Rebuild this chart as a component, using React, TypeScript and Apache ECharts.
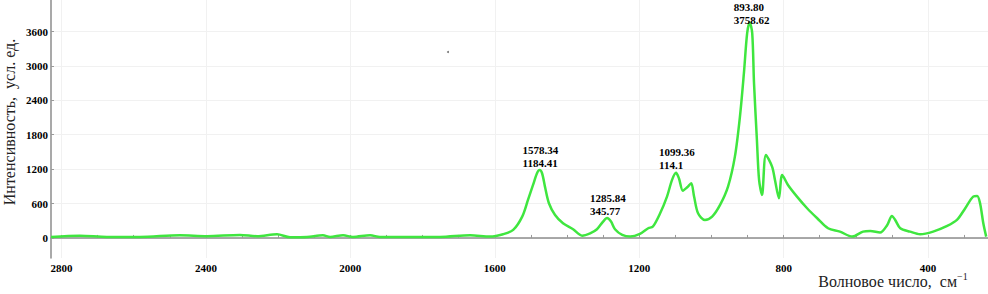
import React, { useEffect, useRef } from "react";
import * as echarts from "echarts";

// Spectrum: wavenumber (cm^-1) and intensity (arb. units)
const wavenumbers = [
  2829, 2749, 2674, 2583, 2472, 2397, 2306, 2258, 2203, 2167, 2120, 2076, 2056, 2020, 1993, 1945, 1918, 1843,
  1752, 1668, 1613, 1577, 1549, 1524, 1508, 1494, 1483, 1476, 1469, 1461, 1450, 1433, 1411, 1383, 1358, 1336,
  1317, 1300, 1289, 1278, 1267, 1247, 1225, 1198, 1175, 1162, 1142, 1123, 1109, 1098, 1090, 1079, 1067, 1056,
  1048, 1037, 1018, 998, 976, 954, 935, 921, 910, 901, 894, 887, 882, 874, 868, 860, 849, 832, 824, 813, 804,
  788, 763, 735, 707, 677, 644, 610, 580, 560, 533, 513, 500, 491, 477, 450, 422, 386, 347, 320, 297, 275, 264,
  256, 247, 239,
];
const intensities = [
  17, 40, 17, 17, 47, 30, 52, 30, 64, 12, 17, 47, 17, 47, 17, 47, 17, 17,
  17, 47, 23, 64, 140, 372, 663, 924, 1128, 1184, 1128, 895, 605, 401, 256, 152, 40, 81,
  152, 285, 346, 285, 152, 52, 23, 70, 169, 198, 430, 721, 1012, 1135, 1041, 825, 884, 954,
  721, 430, 314, 372, 576, 895, 1418, 2116, 2873, 3571, 3759, 3571, 2698, 1709, 1012, 750, 1448, 1244, 1012, 692, 1099,
  924, 721, 518, 343, 169, 110, 23, 110, 122, 93, 227, 384, 314, 169, 110, 64, 110, 209, 314, 518, 721, 733,
  605, 256, 23,
];

// Annotated peaks
const peakWavenumbers = [1476, 1289, 1098, 894];
const peakIntensities = [1184, 346, 1135, 3759];
const peakTexts = ["1578.34\n1184.41", "1285.84\n345.77", "1099.36\n114.1", "893.80\n3758.62"];

// Axis ticks
const yTickValues = [0, 600, 1200, 1800, 2400, 3000, 3600];
const xLabelValues = [2800, 2400, 2000, 1600, 1200, 800, 400];
const xMinorTickValues = [
  300, 400, 500, 600, 700, 800, 900, 1000, 1100, 1200, 1300, 1400, 1500, 1600, 1700, 1800, 1900, 2000, 2100, 2200,
  2300, 2400, 2500, 2600, 2700, 2800,
];

const X_MIN = 234;
const X_MAX = 2829;
const Y_MIN = -350;
const Y_MAX = 4150;

const SERIF = "'Liberation Serif', 'Times New Roman', serif";

export default function App() {
  const ref = useRef<HTMLDivElement>(null);

  useEffect(() => {
    if (!ref.current) return;
    const chart = echarts.init(ref.current, undefined, { renderer: "svg" });
    const data = wavenumbers.map((w, i) => [w, intensities[i]]);
    const tickLabel = {
      fontFamily: SERIF,
      fontSize: 11,
      fontWeight: "bold" as const,
      color: "#000",
    };
    chart.setOption({
      animation: false,
      backgroundColor: "#ffffff",
      grid: { left: 51, right: 0, top: 0, bottom: 36, containLabel: false, outerBoundsMode: "none" },
      xAxis: [
        {
          type: "value",
          inverse: true,
          min: X_MIN,
          max: X_MAX,
          axisLine: { show: true, lineStyle: { color: "#8c8c8c", width: 1.5 } },
          axisTick: {
            show: true,
            inside: true,
            length: 3,
            customValues: xMinorTickValues,
            lineStyle: { color: "#9a9a9a" },
          },
          axisLabel: {
            ...tickLabel,
            margin: 4,
            customValues: xLabelValues,
            formatter: (v: number) => String(v),
          },
          splitLine: { show: false },
        },
        {
          type: "value",
          inverse: true,
          min: X_MIN,
          max: X_MAX,
          position: "bottom",
          axisLine: { show: false },
          axisTick: { show: false, customValues: xLabelValues },
          axisLabel: { show: false },
          splitLine: { show: true, lineStyle: { color: "#f1f1f1", width: 1 } },
        },
      ],
      yAxis: {
        type: "value",
        min: Y_MIN,
        max: Y_MAX,
        axisLine: { show: true, lineStyle: { color: "#8c8c8c", width: 1.5 } },
        axisTick: {
          show: true,
          inside: true,
          length: 3,
          customValues: yTickValues,
          lineStyle: { color: "#9a9a9a" },
        },
        axisLabel: {
          ...tickLabel,
          margin: 3,
          customValues: yTickValues,
          formatter: (v: number) => String(v),
        },
        splitLine: { show: true, lineStyle: { color: "#f1f1f1", width: 1 } },
      },
      series: [
        {
          type: "line",
          xAxisIndex: 0,
          data,
          showSymbol: false,
          smooth: 0.3,
          lineStyle: { color: "#3fe63f", width: 2.5 },
          markPoint: {
            symbol: "circle",
            symbolSize: 0,
            silent: true,
            label: {
              show: true,
              position: [-17, -27],
              align: "left",
              verticalAlign: "top",
              fontFamily: SERIF,
              fontSize: 11,
              fontWeight: "bold",
              color: "#000",
              lineHeight: 13,
              formatter: (p: any) => p.name,
            },
            data: peakWavenumbers.map((w, i) => ({
              name: peakTexts[i],
              coord: [w, peakIntensities[i]],
              label: i === peakWavenumbers.length - 1 ? { position: [-16, -22] } : undefined,
            })),
          },
        },
      ],
      graphic: [
        {
          type: "text",
          x: 9,
          y: 122,
          rotation: Math.PI / 2,
          style: {
            text: "Интенсивность,  усл. ед.",
            fontFamily: SERIF,
            fontSize: 16,
            fill: "#222",
            align: "center",
            verticalAlign: "middle",
          },
        },
        {
          type: "text",
          x: 893,
          y: 281,
          style: {
            text: "Волновое число,  см{s|−1}",
            fontFamily: SERIF,
            fontSize: 16,
            fill: "#222",
            align: "center",
            verticalAlign: "middle",
            rich: {
              s: { fontFamily: SERIF, fontSize: 10, fill: "#222", verticalAlign: "top", padding: [0, 0, 10, 0] },
            },
          },
        },
        {
          type: "circle",
          shape: { cx: 448, cy: 52, r: 1 },
          style: { fill: "#777" },
        },
      ],
    });
    return () => chart.dispose();
  }, []);

  return (
    <div
      ref={ref}
      style={{ position: "fixed", left: 0, top: 0, width: 988, height: 294 }}
    />
  );
}
